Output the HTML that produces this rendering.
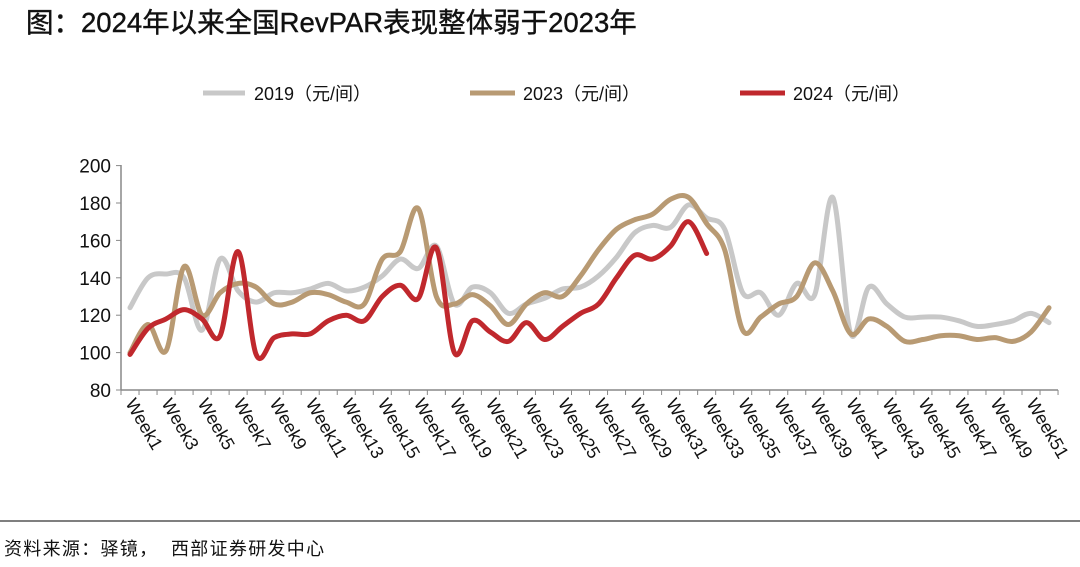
<!DOCTYPE html>
<html><head><meta charset="utf-8"><style>
body{margin:0;background:#fff;width:1080px;height:562px;overflow:hidden;font-family:"Liberation Sans","Noto Sans CJK SC",sans-serif;}
</style></head><body>
<svg id="s" width="1080" height="562" xmlns="http://www.w3.org/2000/svg" font-family="Liberation Sans, Noto Sans CJK SC, sans-serif">
<text x="26" y="32" font-size="27.5" font-family="WenQuanYi Zen Hei, sans-serif" fill="#111" stroke="#111" stroke-width="0.4">图：2024年以来全国RevPAR表现整体弱于2023年</text>
<line x1="203" y1="93" x2="245" y2="93" stroke="#c8c8c8" stroke-width="5"/>
<text x="254" y="100" font-size="18" fill="#111">2019（元/间）</text>
<line x1="470" y1="93" x2="515" y2="93" stroke="#b89a73" stroke-width="5"/>
<text x="523" y="100" font-size="18" fill="#111">2023（元/间）</text>
<line x1="740" y1="93" x2="785" y2="93" stroke="#c0282d" stroke-width="5"/>
<text x="793" y="100" font-size="18" fill="#111">2024（元/间）</text>
<line x1="0" y1="521" x2="1080" y2="521" stroke="#555" stroke-width="1.5"/>
<text x="4" y="555" font-size="18" letter-spacing="1.3" font-family="WenQuanYi Zen Hei, sans-serif" fill="#111" xml:space="preserve">资料来源：驿镜，  西部证券研发中心</text>
<g id="g"></g>
</svg>
<script>
var g=document.getElementById('g'),h='';
function Y(v){return 390-(v-80)*1.87;}
function X(i){return 130+i*18.02;}
h+='<line x1="121" y1="165" x2="121" y2="390" stroke="#888" stroke-width="1.5"/>';
h+='<line x1="121" y1="390" x2="1058" y2="390" stroke="#888" stroke-width="1.5"/>';
for(var v=80;v<=200;v+=20){h+='<line x1="116" y1="'+Y(v)+'" x2="121" y2="'+Y(v)+'" stroke="#888"/>';h+='<text x="111" y="'+(Y(v)+7)+'" font-size="19" text-anchor="end" fill="#111">'+v+'</text>';}
for(var i=0;i<=52;i++){var x=121+i*18.02;h+='<line x1="'+x+'" y1="390" x2="'+x+'" y2="395" stroke="#888"/>';}
for(var i=1;i<=51;i+=2){var x=X(i-1)-5,y=403;h+='<text transform="translate('+x+','+y+') rotate(60)" font-size="18" fill="#111">Week'+i+'</text>';}
function path(d,c){var p=d.map(function(v,i){return [X(i),Y(v)]});var s='M'+p[0][0]+','+p[0][1];
for(var i=0;i<p.length-1;i++){var p0=p[i-1]||p[i],p1=p[i],p2=p[i+1],p3=p[i+2]||p2;var t=6;
s+=' C'+(p1[0]+(p2[0]-p0[0])/t)+','+(p1[1]+(p2[1]-p0[1])/t)+' '+(p2[0]-(p3[0]-p1[0])/t)+','+(p2[1]-(p3[1]-p1[1])/t)+' '+p2[0]+','+p2[1];}
return '<path d="'+s+'" fill="none" stroke="'+c+'" stroke-width="5" stroke-linejoin="round" stroke-linecap="round"/>';}
var a=[124,140,142,140,112,150,133,127,132,132,134,137,133,135,141,150,145,157,126,135,132,121,126,129,134,135,141,151,164,168,167,179,172,166,132,132,120,137,131,183,110,135,126,119,119,119,117,114,115,117,121,116];
var b=[100,115,101,146,120,132,137,135,126,127,132,131,127,126,150,154,177,130,126,131,125,115,126,132,130,141,155,166,171,174,182,183,169,155,112,119,126,130,148,133,110,118,114,106,107,109,109,107,108,106,111,124];
var c=[99,113,118,123,118,109,154,99,108,110,110,117,120,117,130,136,129,156,100,117,111,106,116,107,114,121,126,140,152,150,157,170,153];
h+=path(a,'#c8c8c8')+path(b,'#b89a73')+path(c,'#c0282d');
g.innerHTML=h;
</script>
</body></html>
